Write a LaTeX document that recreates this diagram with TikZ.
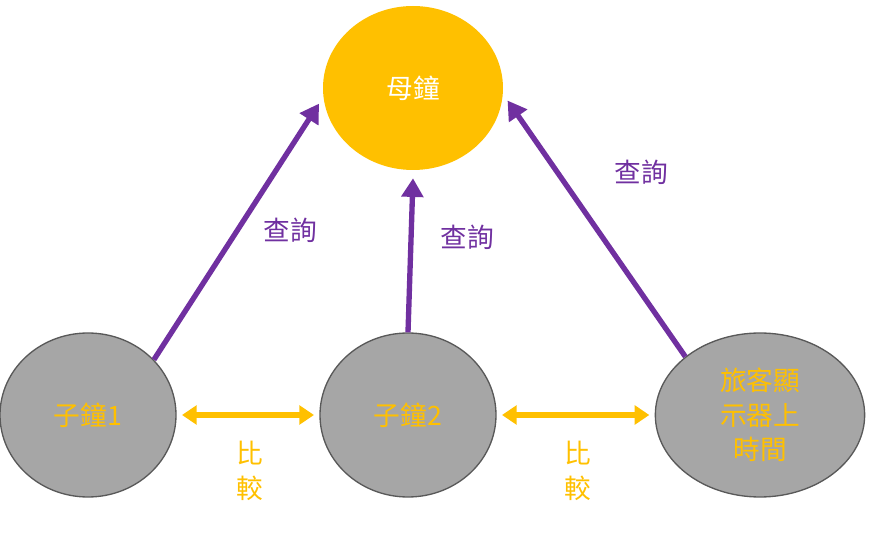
\documentclass[tikz,border=0pt]{standalone}
\usepackage{fontspec}
\newfontfamily\cjk{Noto Sans CJK TC}
\usetikzlibrary{arrows.meta,shapes.geometric}
\definecolor{gold}{HTML}{FFC000}
\definecolor{purp}{HTML}{7030A0}
\definecolor{grayfill}{HTML}{A6A6A6}
\tikzset{
  clock/.style={ellipse,fill=grayfill,draw=black!65,line width=1pt,text=gold,font=\cjk\fontsize{20}{26}\selectfont,align=center},
  query/.style={draw=purp,line width=4pt,-{Triangle[length=14pt,width=16pt]}},
  cmp/.style={draw=gold,line width=4pt,{Triangle[length=11pt,width=14pt]}-{Triangle[length=11pt,width=14pt]},shorten <=4pt,shorten >=4pt},
  lbl/.style={font=\cjk\fontsize{20}{26}\selectfont}
}
\begin{document}
\begin{tikzpicture}[x=0.75pt,y=-0.75pt]
\useasboundingbox (0,0) rectangle (869,538);
\node[ellipse,fill=gold,minimum width=135pt,minimum height=123pt,text=white,font=\cjk\fontsize{20}{26}\selectfont] (top) at (413,88) {母鐘};
\node[clock,minimum width=132pt,minimum height=123pt] (c1) at (88,415) {子鐘1};
\node[clock,minimum width=132pt,minimum height=123pt] (c2) at (408,415) {子鐘2};
\node[clock,minimum width=157pt,minimum height=123pt] (disp) at (760,415) {旅客顯\\示器上\\時間};
% queries
\draw[query] (c1.40) -- ([xshift=-4pt]top.190);
\draw[query] (c2.north) -- ([yshift=-6pt]top.south);
\draw[query] (disp.142) -- ([xshift=4pt]top.352);
\node[lbl,text=purp] (q1) at (290,230) {查詢};
\node[lbl,text=purp] (q2) at (467,237) {查詢};
\node[lbl,text=purp] (q3) at (641,172) {查詢};
% compares
\draw[cmp] (c1.east) -- (c2.west);
\draw[cmp] (c2.east) -- (disp.west);
\node[lbl,text=gold,align=center] (b1) at (250,471) {比\\較};
\node[lbl,text=gold,align=center] (b2) at (578,471) {比\\較};
\end{tikzpicture}
\end{document}
